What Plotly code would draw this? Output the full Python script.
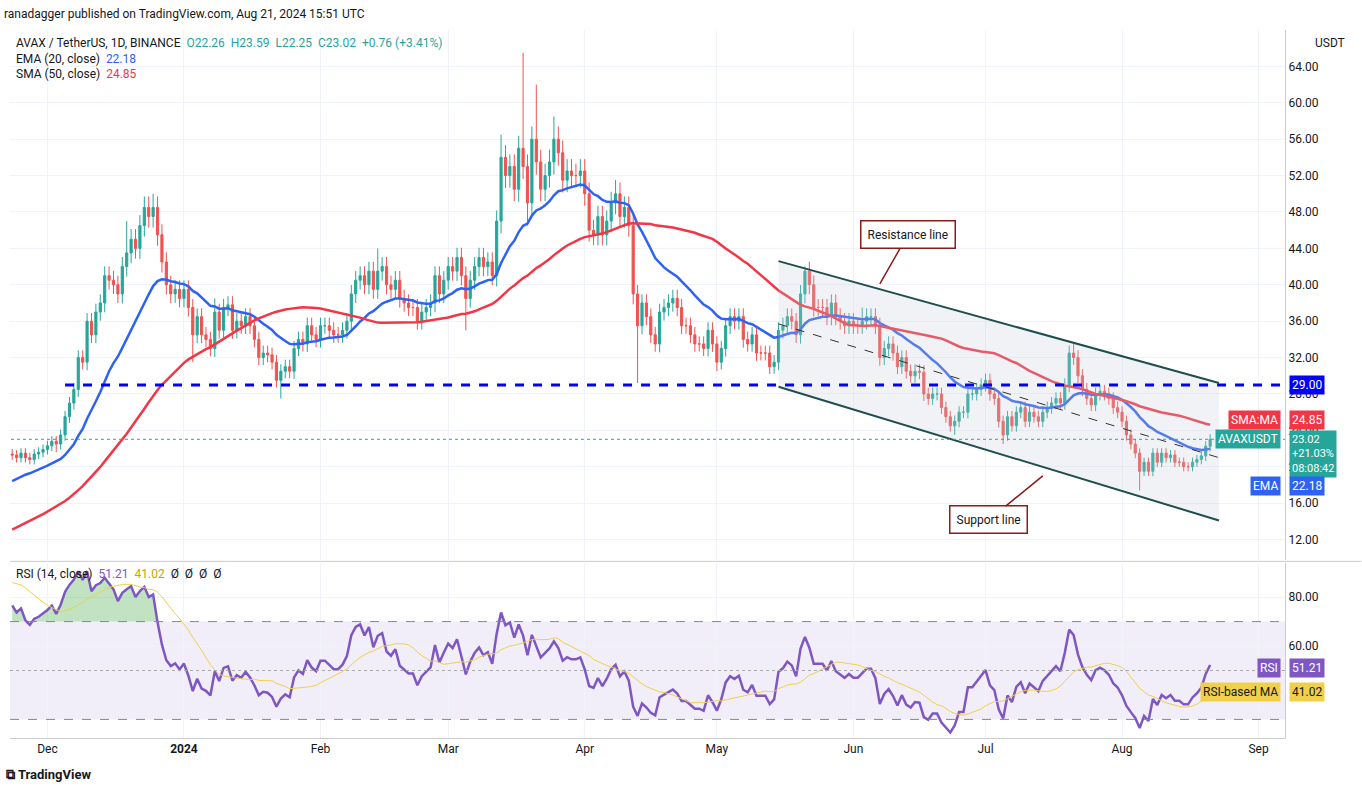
import numpy as np
import pandas as pd
import plotly.graph_objects as go

# ---- data ----
pre_closes = [9.4,9.3,9.2,9.3,9.2,9.1,9.0,9.0,8.9,8.9,8.9,9.0,9.1,9.2,9.3,9.3,9.6,9.8,9.7,10.1,
              10.2,10.6,10.3,10.4,10.9,10.8,10.6,10.9,11.3,11.9,12.3,12.6,12.8,13.2,13.9,14.8,
              14.2,14.5,14.9,17.8,18.5,19.6,20.4,21.0,22.0,21.6,21.3,22.1,21.0,21.4]
start_date = "2023-11-23"
closes = [
 # Nov 23-30
 21.3,21.0,21.5,21.0,20.8,21.4,21.6,21.9,
 # Dec
 22.3,22.8,22.5,23.5,25.5,27.0,28.5,32.0,31.5,36.0,34.5,37.0,38.0,41.0,40.5,40.0,39.0,42.0,43.5,45.0,
 44.0,46.5,48.5,47.5,48.5,45.5,42.5,40.0,39.0,39.5,38.5,
 # Jan
 39.5,37.5,34.5,36.5,34.5,34.0,33.0,37.0,35.0,37.5,37.8,35.0,36.0,35.5,36.5,35.5,34.0,32.0,32.5,32.3,
 31.5,29.5,30.5,31.0,30.5,33.0,34.0,33.5,35.5,34.5,34.0,
 # Feb
 35.5,35.5,35.0,34.5,34.5,35.0,36.0,39.0,40.5,41.0,40.0,41.5,39.5,41.5,42.0,40.0,39.5,40.5,38.5,38.0,
 37.5,37.5,36.0,37.0,37.5,38.0,41.0,39.0,40.5,
 # Mar
 42.0,41.5,43.0,41.0,38.5,40.5,42.0,43.0,42.0,42.5,41.0,47.0,54.0,52.0,53.0,50.5,55.0,53.0,49.0,56.0,
 53.5,50.5,52.0,53.5,56.0,54.5,51.5,52.5,52.0,52.0,52.5,
 # Apr
 50.0,46.0,45.5,47.5,45.5,47.0,49.0,50.0,47.5,48.5,46.5,39.0,35.5,38.0,36.5,34.5,33.5,37.0,37.5,38.0,
 38.5,37.5,35.5,35.5,34.5,33.5,33.5,33.0,35.0,33.5,
 # May
 31.5,33.0,35.5,36.5,36.0,36.5,34.0,33.5,34.5,32.5,32.5,32.5,31.0,31.5,35.0,35.5,36.5,36.0,34.5,39.0,
 41.5,40.0,37.5,37.5,37.5,36.5,38.0,36.5,36.0,35.5,36.0,
 # Jun
 35.5,35.5,36.0,36.5,36.5,35.5,32.0,33.0,33.5,32.5,31.0,32.0,30.5,30.0,30.5,30.4,28.0,27.5,28.0,28.0,
 26.5,25.5,24.5,25.0,26.0,26.0,28.0,28.0,28.5,29.0,
 # Jul
 29.5,28.0,27.5,25.0,23.5,25.5,24.5,26.0,26.5,25.0,26.0,25.5,25.0,26.0,26.5,27.0,27.5,27.0,29.0,32.5,
 32.0,30.0,28.5,27.5,26.8,28.0,28.3,28.0,27.5,26.5,26.0,
 # Aug
 25.0,23.5,22.5,21.5,19.5,20.5,19.5,21.5,20.5,21.5,21.0,21.3,20.5,20.5,20.0,20.0,20.5,20.8,21.2,22.26,23.02,
]
# notable wick extremes (date -> value)
high_over = {"2023-12-25": 50.0, "2023-12-19": 47.0, "2024-03-18": 65.5, "2024-03-21": 62.0, "2024-03-25": 58.5,
             "2024-03-13": 56.5, "2024-04-08": 51.5, "2024-05-21": 42.0, "2024-07-21": 33.5, "2024-02-14": 44.0,
             "2024-01-08": 38.5, "2024-06-03": 37.5}
low_over = {"2024-04-13": 29.2, "2024-01-23": 27.5, "2024-03-05": 35.0, "2024-03-19": 46.5, "2024-08-05": 17.4,
            "2024-07-05": 22.5, "2024-05-01": 30.5, "2023-12-03": 21.6, "2024-01-03": 31.5, "2024-06-24": 23.5}
ema_last, sma_last, rsi_last, rsima_last = 22.18, 24.85, 51.21, 41.02

dates = pd.date_range(start_date, periods=len(closes), freq="D")
pre_dates = pd.date_range(end=dates[0] - pd.Timedelta(days=1), periods=len(pre_closes), freq="D")
all_c = pd.Series(pre_closes + closes, index=pre_dates.append(dates))
opens = [pre_closes[-1]] + closes[:-1]
opens[-1] = 22.26
highs, lows = [], []
for d, o, c in zip(dates, opens, closes):
    k = d.strftime("%Y-%m-%d")
    span = max(o, c) * 0.025
    highs.append(high_over.get(k, max(o, c) + span))
    lows.append(low_over.get(k, min(o, c) - span))

ema = all_c.ewm(span=20, adjust=False).mean()[dates]
sma = all_c.rolling(50, min_periods=1).mean()[dates]
delta = all_c.diff()
up = delta.clip(lower=0).ewm(alpha=1/14, adjust=False).mean()
dn = (-delta.clip(upper=0)).ewm(alpha=1/14, adjust=False).mean()
rsi_all = 100 - 100 / (1 + up / dn)
rsi = rsi_all[dates]
rsima = rsi_all.rolling(14).mean()[dates]

UP, DN = "#26a69a", "#ef5350"
BLUE, RED, PURP, YEL = "#2e62f5", "#f23645", "#7e57c2", "#f0d04a"
fig = go.Figure()
fig.add_trace(go.Candlestick(x=dates, open=opens, high=highs, low=lows, close=closes,
    increasing=dict(line=dict(color=UP, width=1), fillcolor=UP),
    decreasing=dict(line=dict(color=DN, width=1), fillcolor=DN), whiskerwidth=0, showlegend=False))
fig.add_trace(go.Scatter(x=dates, y=ema, line=dict(color=BLUE, width=2.5), mode="lines", showlegend=False))
fig.add_trace(go.Scatter(x=dates, y=sma, line=dict(color=RED, width=2.5), mode="lines", showlegend=False))

# channel
c0, c1 = "2024-05-15", "2024-08-23"
fig.add_trace(go.Scatter(x=[c0, c1, c1, c0, c0], y=[42.6, 29.2, 14.1, 28.8, 42.6], fill="toself",
    fillcolor="rgba(200,205,215,0.25)", line=dict(width=0), mode="lines", showlegend=False, hoverinfo="skip"))
fig.add_trace(go.Scatter(x=[c0, c1], y=[42.6, 29.2], line=dict(color="#1f4e4e", width=2), mode="lines", showlegend=False))
fig.add_trace(go.Scatter(x=[c0, c1], y=[28.8, 14.1], line=dict(color="#1f4e4e", width=2), mode="lines", showlegend=False))
fig.add_trace(go.Scatter(x=[c0, c1], y=[35.7, 21.0], line=dict(color="#333", width=1, dash="dash"), mode="lines", showlegend=False))
fig.add_trace(go.Scatter(x=["2023-12-05", "2024-09-08"], y=[29, 29], line=dict(color="#0000ff", width=3, dash="dash"), mode="lines", showlegend=False))
fig.add_trace(go.Scatter(x=["2023-11-20", "2024-09-08"], y=[23.02, 23.02], line=dict(color=UP, width=1, dash="dot"), mode="lines", showlegend=False))

# RSI
fig.add_trace(go.Scatter(x=dates, y=[70] * len(dates), yaxis="y2", line=dict(width=0), mode="lines", showlegend=False, hoverinfo="skip"))
fig.add_trace(go.Scatter(x=dates, y=np.maximum(rsi.values, 70), yaxis="y2", line=dict(width=0), mode="lines",
                         fill="tonexty", fillcolor="rgba(76,175,80,0.35)", showlegend=False, hoverinfo="skip"))
fig.add_trace(go.Scatter(x=dates, y=rsi, yaxis="y2", line=dict(color=PURP, width=2.5), mode="lines", showlegend=False))
fig.add_trace(go.Scatter(x=dates, y=rsima, yaxis="y2", line=dict(color=YEL, width=1), mode="lines", showlegend=False))

shapes = [
    dict(type="rect", xref="paper", yref="y2", x0=0, x1=1, y0=30, y1=70, fillcolor="rgba(126,87,194,0.1)", line_width=0, layer="below"),
    dict(type="line", xref="paper", yref="y2", x0=0, x1=1, y0=70, y1=70, line=dict(color="#888", width=1, dash="dash")),
    dict(type="line", xref="paper", yref="y2", x0=0, x1=1, y0=30, y1=30, line=dict(color="#888", width=1, dash="dash")),
    dict(type="line", xref="paper", yref="y2", x0=0, x1=1, y0=50, y1=50, line=dict(color="#aaa", width=1, dash="dot")),
    dict(type="line", xref="paper", yref="paper", x0=0, x1=1.06, y0=0.2495, y1=0.2495, line=dict(color="#ccc", width=1)),
]

def tag(y, text, bg, yref="y", fc="white", sz=12, ya="middle"):
    return dict(xref="paper", yref=yref, x=1.003, y=y, text=text, showarrow=False, xanchor="left", yanchor=ya,
                bgcolor=bg, font=dict(color=fc, size=sz, family="Roboto"), borderpad=2, align="left")

def box(y, text, bg, yref="y", fc="white"):
    return dict(xref="paper", yref=yref, x=0.997, y=y, text=text, showarrow=False, xanchor="right", bgcolor=bg,
                font=dict(color=fc, size=12), borderpad=2)

ann = [
    dict(xref="paper", yref="paper", x=-0.006, y=1.035, xanchor="left", text="ranadagger published on TradingView.com, Aug 21, 2024 15:51 UTC", showarrow=False, font=dict(size=12, color="#131722")),
    dict(xref="paper", yref="paper", x=0.003, y=0.995, xanchor="left", yanchor="top", align="left", showarrow=False,
         text="AVAX / TetherUS, 1D, BINANCE  <span style='color:#26a69a'>O22.26  H23.59  L22.25  C23.02  +0.76 (+3.41%)</span><br>EMA (20, close)  <span style='color:#2e62f5'>22.18</span><br>SMA (50, close)  <span style='color:#f23645'>24.85</span>",
         font=dict(size=12, color="#131722")),
    dict(xref="paper", yref="paper", x=0.003, y=0.245, xanchor="left", yanchor="top", showarrow=False,
         text="RSI (14, close)  <span style='color:#7e57c2'>51.21</span>  <span style='color:#c9a400'>41.02</span>  Ø  Ø  Ø  Ø", font=dict(size=12, color="#131722")),
    dict(xref="paper", yref="paper", x=1.022, y=0.995, xanchor="left", yanchor="top", text="USDT", showarrow=False, font=dict(size=12, color="#131722")),
    dict(xref="paper", yref="paper", x=-0.005, y=-0.065, xanchor="left", text="<b>⧉ TradingView</b>", showarrow=False, font=dict(size=13, color="#131722")),
    tag(29, "29.00", "#0000ff"), tag(25.1, "24.85", RED), tag(24.0, "23.02<br>+21.03%<br>08:08:42", UP, sz=11, ya="top"),
    tag(17.9, "22.18", BLUE), tag(51.21, "51.21", PURP, "y2"), tag(41.02, "41.02", YEL, "y2", "#131722"),
    box(25.1, "SMA:MA", RED), box(23.02, "AVAXUSDT", UP), box(17.9, "EMA", BLUE),
    box(51.21, "RSI", PURP, "y2"), box(41.02, "RSI-based MA", YEL, "y2", "#131722"),
    dict(x="2024-06-07", y=40.1, ax=28, ay=-49, text="Resistance line", arrowcolor="#8b1a1a", arrowwidth=1.5, arrowhead=0,
         bordercolor="#8b1a1a", borderwidth=1.5, borderpad=6, bgcolor="white", font=dict(size=12, color="#131722")),
    dict(x="2024-07-14", y=19.0, ax=-54, ay=44, text="Support line", arrowcolor="#8b1a1a", arrowwidth=1.5, arrowhead=0,
         bordercolor="#8b1a1a", borderwidth=1.5, borderpad=6, bgcolor="white", font=dict(size=12, color="#131722")),
]

tickv = ["2023-12-01", "2024-01-01", "2024-02-01", "2024-03-01", "2024-04-01", "2024-05-01", "2024-06-01", "2024-07-01", "2024-08-01", "2024-09-01"]
tickt = ["Dec", "<b>2024</b>", "Feb", "Mar", "Apr", "May", "Jun", "Jul", "Aug", "Sep"]
yt = list(range(12, 65, 4))
fig.update_layout(
    width=1362, height=804, margin=dict(l=10, r=77, t=30, b=66), plot_bgcolor="white", paper_bgcolor="white",
    font=dict(family="Roboto", size=12, color="#131722"),
    xaxis=dict(range=["2023-11-22 12:00", "2024-09-07"], tickvals=tickv, ticktext=tickt, showgrid=True, gridcolor="#f0f3fa",
               rangeslider=dict(visible=False), anchor="y2", showline=True, linecolor="#ccc", ticks=""),
    yaxis=dict(domain=[0.252, 1], range=[9.8, 68], side="right", tickvals=yt, ticktext=[f"{v:.2f}" for v in yt],
               gridcolor="#f0f3fa", showline=True, linecolor="#ccc", anchor="x"),
    yaxis2=dict(domain=[0, 0.247], range=[22.4, 93.9], side="right", tickvals=[60, 80], ticktext=["60.00", "80.00"],
                gridcolor="#f0f3fa", showline=True, linecolor="#ccc", anchor="x"),
    shapes=shapes, annotations=ann, hovermode=False,
)
fig.write_html("out.html", config={"displayModeBar": False},
               post_script="document.body.style.margin='0';document.body.style.overflow='hidden';")
